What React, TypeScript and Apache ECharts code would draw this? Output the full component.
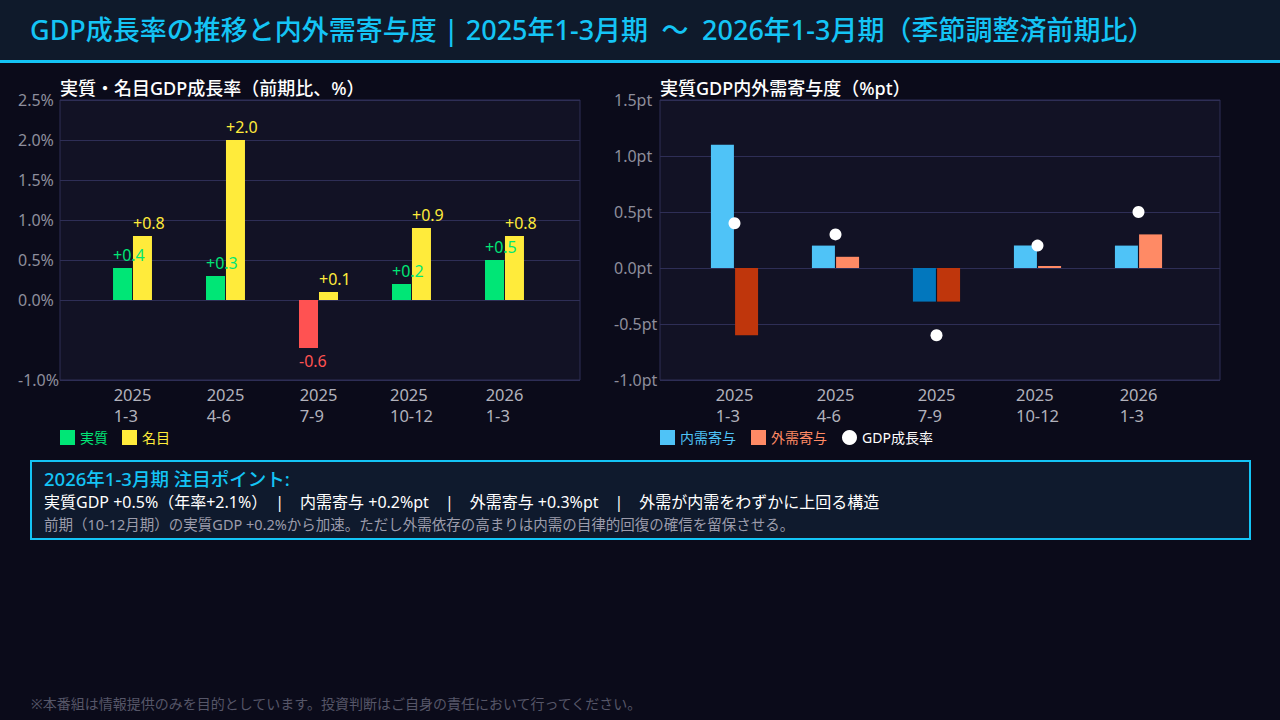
import React, { useEffect, useRef } from "react";
import * as echarts from "echarts";

// Quarter labels (year / months)
const quarterLabels = ["2025\n1-3", "2025\n4-6", "2025\n7-9", "2025\n10-12", "2026\n1-3"];

// Left chart: quarter-on-quarter growth (%)
const realGrowth = [0.4, 0.3, -0.6, 0.2, 0.5];
const nominalGrowth = [0.8, 2.0, 0.1, 0.9, 0.8];

// Right chart: contributions to real GDP growth (%pt)
const domesticContrib = [1.1, 0.2, -0.3, 0.2, 0.2];
const externalContrib = [-0.6, 0.1, -0.3, 0.0, 0.3];
const gdpGrowth = [0.4, 0.3, -0.6, 0.2, 0.5];

// Axis ranges
const growthAxis = { min: -1.0, max: 2.5, step: 0.5, hidden: [-0.5] };
const contribAxis = { min: -1.0, max: 1.5, step: 0.5 };

const FONT = "'Noto Sans', 'Noto Sans CJK JP', sans-serif";
const C = {
  page: "#0b0b1a",
  header: "#0f1a2b",
  cyan: "#14c4f5",
  plot: "#121225",
  grid: "#2e2e56",
  green: "#00e676",
  yellow: "#ffeb3b",
  red: "#ff5252",
  blue: "#4fc3f7",
  blueDark: "#0277bd",
  salmon: "#ff8a65",
  rust: "#bf360c",
  axisText: "#8e8e9c",
  catText: "#b2b2bc",
};

const signed = (v: number) => (v > 0 ? "+" : "") + v.toFixed(1);

// Category label: year and months, lines left-aligned in a centred block
const catLabel = (v: number) => {
  const [y, m] = quarterLabels[Math.round(v)].split("\n");
  return `{a|${y}}\n{a|${m}}`;
};

const catAxis = (gridIndex: number, min: number, max: number) => ({
  type: "value",
  gridIndex,
  min,
  max,
  axisLine: { show: false, onZero: false },
  axisTick: { show: false },
  splitLine: { show: false },
  axisLabel: {
    customValues: quarterLabels.map((_, i) => i),
    formatter: catLabel,
    margin: 4,
    rich: {
      a: { align: "left", fontSize: 16.5, lineHeight: 21, color: C.catText, fontFamily: FONT },
    },
  },
});

function ticks(min: number, max: number, step: number) {
  const out: number[] = [];
  for (let v = min; v <= max + 1e-9; v += step) out.push(Math.round(v * 10) / 10);
  return out;
}

export default function App() {
  const ref = useRef<HTMLDivElement>(null);

  useEffect(() => {
    document.body.style.margin = "0";
    document.body.style.background = C.page;
    const chart = echarts.init(ref.current!, null, { renderer: "svg" });

    const growthTicks = ticks(growthAxis.min, growthAxis.max, growthAxis.step);
    const growthLineColors = growthTicks.map((t) =>
      growthAxis.hidden.includes(t) ? "rgba(0,0,0,0)" : C.grid
    );

    const valueLabel = {
      show: true,
      position: "outside",
      distance: 5,
      fontSize: 16,
      fontFamily: FONT,
      formatter: (p: any) => signed(p.value[1]),
    };

    const option: any = {
      animation: false,
      backgroundColor: C.page,
      textStyle: { fontFamily: FONT },
      grid: [
        { left: 60, top: 100, width: 520, height: 280, show: true, backgroundColor: C.plot, borderColor: C.grid, borderWidth: 1 },
        { left: 660, top: 100, width: 560, height: 280, show: true, backgroundColor: C.plot, borderColor: C.grid, borderWidth: 1 },
      ],
      xAxis: [catAxis(0, -72.5 / 93, (520 - 72.5) / 93), catAxis(1, -74.5 / 101, (560 - 74.5) / 101)],
      yAxis: [
        {
          type: "value",
          gridIndex: 0,
          min: growthAxis.min,
          max: growthAxis.max,
          interval: growthAxis.step,
          axisLine: { show: false },
          axisTick: { show: false },
          splitLine: { show: true, lineStyle: { color: growthLineColors, width: 1 } },
          axisLabel: {
            align: "left",
            margin: 42,
            fontSize: 16,
            color: C.axisText,
            fontFamily: FONT,
            formatter: (v: number) =>
              growthAxis.hidden.some((h) => Math.abs(h - v) < 1e-6) ? "" : v.toFixed(1) + "%",
          },
        },
        {
          type: "value",
          gridIndex: 1,
          min: contribAxis.min,
          max: contribAxis.max,
          interval: contribAxis.step,
          axisLine: { show: false },
          axisTick: { show: false },
          splitLine: { show: true, lineStyle: { color: C.grid, width: 1 } },
          axisLabel: {
            align: "left",
            margin: 46,
            fontSize: 16,
            color: C.axisText,
            fontFamily: FONT,
            formatter: (v: number) => v.toFixed(1) + "pt",
          },
        },
      ],
      legend: [
        {
          left: 60,
          top: 430,
          padding: 0,
          itemWidth: 15,
          itemHeight: 15,
          itemGap: 14,
          icon: "rect",
          textStyle: { fontSize: 14, fontFamily: FONT },
          data: [
            { name: "実質", textStyle: { color: C.green } },
            { name: "名目", textStyle: { color: C.yellow } },
          ],
        },
        {
          left: 660,
          top: 430,
          padding: 0,
          itemWidth: 15,
          itemHeight: 15,
          itemGap: 15,
          textStyle: { fontSize: 14, fontFamily: FONT },
          data: [
            { name: "内需寄与", icon: "rect", textStyle: { color: C.blue } },
            { name: "外需寄与", icon: "rect", textStyle: { color: C.salmon } },
            { name: "GDP成長率", icon: "circle", textStyle: { color: "#ffffff" } },
          ],
        },
      ],
      series: [
        {
          type: "bar",
          name: "実質",
          xAxisIndex: 0,
          yAxisIndex: 0,
          barWidth: 19,
          barGap: "5%",
          itemStyle: { color: C.green },
          label: { ...valueLabel, align: "left", offset: [-9.5, 0] },
          data: realGrowth.map((v, i) => ({
            value: [i, v],
            itemStyle: { color: v < 0 ? C.red : C.green },
            label: { color: v < 0 ? C.red : C.green },
          })),
        },
        {
          type: "bar",
          name: "名目",
          xAxisIndex: 0,
          yAxisIndex: 0,
          barWidth: 19,
          barGap: "5%",
          itemStyle: { color: C.yellow },
          label: { ...valueLabel, align: "left", offset: [-9.5, 0] },
          data: nominalGrowth.map((v, i) => ({
            value: [i, v],
            itemStyle: { color: v < 0 ? C.red : C.yellow },
            label: { color: v < 0 ? C.red : C.yellow },
          })),
        },
        {
          type: "bar",
          name: "内需寄与",
          xAxisIndex: 1,
          yAxisIndex: 1,
          barWidth: 23,
          barGap: "5%",
          itemStyle: { color: C.blue },
          data: domesticContrib.map((v, i) => ({
            value: [i, v],
            itemStyle: { color: v < 0 ? C.blueDark : C.blue },
          })),
        },
        {
          type: "bar",
          name: "外需寄与",
          xAxisIndex: 1,
          yAxisIndex: 1,
          barWidth: 23,
          barGap: "5%",
          barMinHeight: 2,
          itemStyle: { color: C.salmon },
          data: externalContrib.map((v, i) => ({
            value: [i, v],
            itemStyle: { color: v < 0 ? C.rust : C.salmon },
          })),
        },
        {
          type: "scatter",
          name: "GDP成長率",
          xAxisIndex: 1,
          yAxisIndex: 1,
          symbol: "circle",
          symbolSize: 12,
          z: 5,
          itemStyle: { color: "#ffffff", opacity: 1 },
          data: gdpGrowth.map((v, i) => [i, v]),
        },
      ],
      graphic: [
        { type: "rect", left: 0, top: 0, shape: { width: 1280, height: 60 }, style: { fill: C.header }, silent: true },
        { type: "rect", left: 0, top: 60, shape: { width: 1280, height: 3 }, style: { fill: C.cyan }, silent: true },
        {
          type: "text",
          x: 30,
          y: 29,
          style: {
            text: "GDP成長率の推移と内外需寄与度 | 2025年1-3月期\u2002〜\u20022026年1-3月期（季節調整済前期比）",
            fill: C.cyan,
            font: `500 27px ${FONT}`,
            verticalAlign: "middle",
          },
        },
        {
          type: "text",
          x: 60,
          y: 88,
          style: { text: "実質・名目GDP成長率（前期比、%）", fill: "#ffffff", font: `500 18px ${FONT}`, verticalAlign: "middle" },
        },
        {
          type: "text",
          x: 660,
          y: 88,
          style: { text: "実質GDP内外需寄与度（%pt）", fill: "#ffffff", font: `500 18px ${FONT}`, verticalAlign: "middle" },
        },
        {
          type: "rect",
          shape: { x: 31, y: 461, width: 1219, height: 78 },
          style: { fill: "#0f1a2d", stroke: C.cyan, lineWidth: 2 },
          silent: true,
        },
        {
          type: "text",
          x: 44,
          y: 478,
          style: { text: "2026年1-3月期 注目ポイント:", fill: C.cyan, font: `500 18.5px ${FONT}`, verticalAlign: "middle" },
        },
        {
          type: "text",
          x: 44,
          y: 502,
          style: {
            text: "実質GDP +0.5%（年率+2.1%）\u3000|\u3000内需寄与 +0.2%pt\u3000|\u3000外需寄与 +0.3%pt\u3000|\u3000外需が内需をわずかに上回る構造",
            fill: "#ffffff",
            font: `16px ${FONT}`,
            verticalAlign: "middle",
          },
        },
        {
          type: "text",
          x: 44,
          y: 524,
          style: {
            text: "前期（10-12月期）の実質GDP +0.2%から加速。ただし外需依存の高まりは内需の自律的回復の確信を留保させる。",
            fill: "#9c9cab",
            font: `14.5px ${FONT}`,
            verticalAlign: "middle",
          },
        },
        {
          type: "text",
          x: 31,
          y: 703,
          style: {
            text: "※本番組は情報提供のみを目的としています。投資判断はご自身の責任において行ってください。",
            fill: "#565668",
            font: `14px ${FONT}`,
            verticalAlign: "middle",
          },
        },
      ],
    };

    chart.setOption(option);
    return () => chart.dispose();
  }, []);

  return (
    <div
      ref={ref}
      style={{ position: "fixed", left: 0, top: 0, width: 1280, height: 720, background: C.page }}
    />
  );
}
